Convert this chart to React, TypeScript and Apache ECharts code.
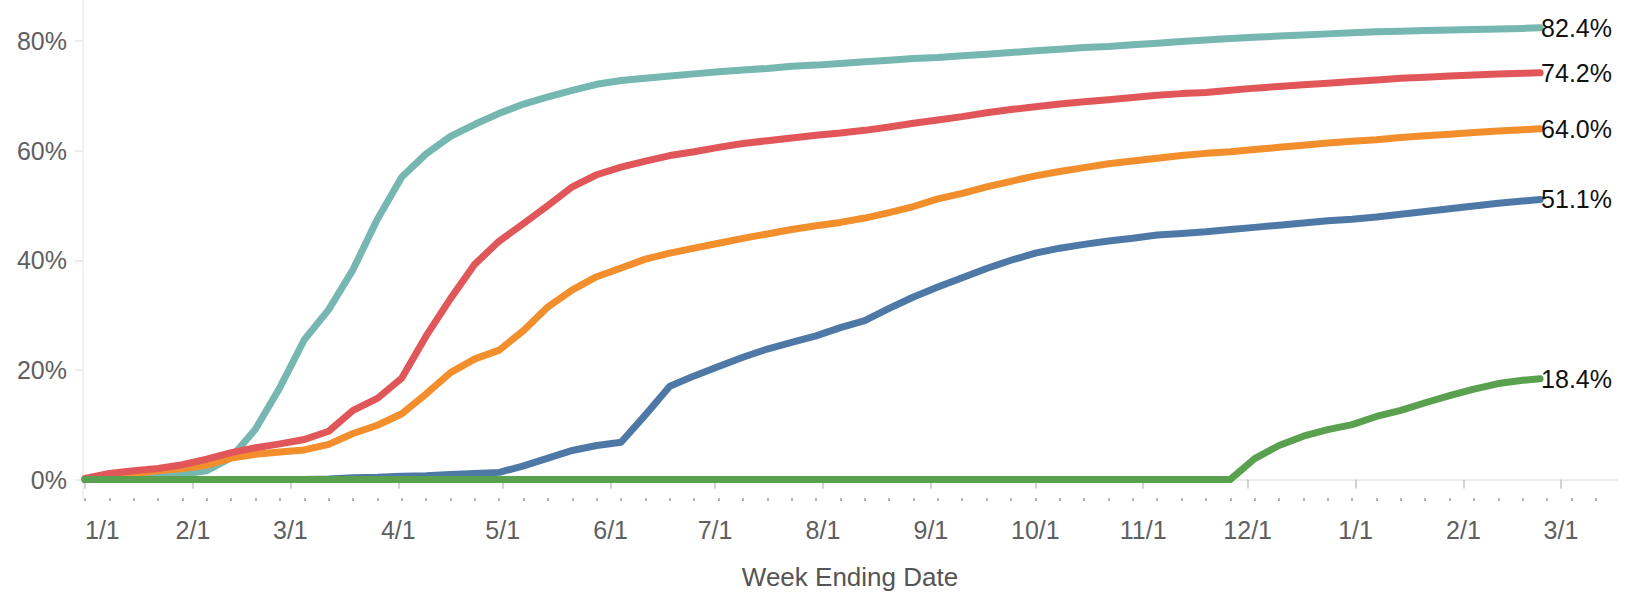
import React, { useEffect, useRef } from "react";
import * as echarts from "echarts";

// Week ending dates (x values)
const weekDates: string[] = [
  "2021-01-01", "2021-01-08", "2021-01-15", "2021-01-22", "2021-01-29",
  "2021-02-05", "2021-02-12", "2021-02-19", "2021-02-26", "2021-03-05",
  "2021-03-12", "2021-03-19", "2021-03-26", "2021-04-02", "2021-04-09",
  "2021-04-16", "2021-04-23", "2021-04-30", "2021-05-07", "2021-05-14",
  "2021-05-21", "2021-05-28", "2021-06-04", "2021-06-11", "2021-06-18",
  "2021-06-25", "2021-07-02", "2021-07-09", "2021-07-16", "2021-07-23",
  "2021-07-30", "2021-08-06", "2021-08-13", "2021-08-20", "2021-08-27",
  "2021-09-03", "2021-09-10", "2021-09-17", "2021-09-24", "2021-10-01",
  "2021-10-08", "2021-10-15", "2021-10-22", "2021-10-29", "2021-11-05",
  "2021-11-12", "2021-11-19", "2021-11-26", "2021-12-03", "2021-12-10",
  "2021-12-17", "2021-12-24", "2021-12-31", "2022-01-07", "2022-01-14",
  "2022-01-21", "2022-01-28", "2022-02-04", "2022-02-11", "2022-02-18",
  "2022-02-23",
];

// Cumulative % values per group
const age65plus: number[] = [
  0.0, 0.2, 0.4, 0.6, 1.0, 1.6, 4.0, 9.2, 16.8, 25.5,
  31.0, 38.3, 47.5, 55.2, 59.4, 62.6, 64.8, 66.8, 68.5, 69.8,
  71.0, 72.1, 72.8, 73.2, 73.6, 74.0, 74.4, 74.7, 75.0, 75.4,
  75.6, 75.9, 76.2, 76.5, 76.8, 77.0, 77.3, 77.6, 77.9, 78.2,
  78.5, 78.8, 79.0, 79.3, 79.6, 79.9, 80.2, 80.45, 80.7, 80.9,
  81.1, 81.3, 81.5, 81.7, 81.8, 81.9, 82.0, 82.1, 82.2, 82.3,
  82.4,
];
const age50to64: number[] = [
  0.2, 1.1, 1.6, 2.0, 2.7, 3.7, 4.9, 5.8, 6.5, 7.3,
  8.8, 12.6, 14.8, 18.5, 26.2, 33.0, 39.3, 43.5, 46.7, 50.0,
  53.4, 55.6, 57.0, 58.1, 59.1, 59.8, 60.6, 61.3, 61.8, 62.3,
  62.8, 63.2, 63.7, 64.3, 65.0, 65.6, 66.2, 66.9, 67.5, 68.0,
  68.5, 68.9, 69.3, 69.7, 70.1, 70.4, 70.6, 71.0, 71.4, 71.7,
  72.0, 72.3, 72.6, 72.9, 73.2, 73.4, 73.6, 73.8, 74.0, 74.1,
  74.2,
];
const age18to49: number[] = [
  0.1, 0.7, 1.1, 1.6, 2.0, 2.6, 3.9, 4.6, 5.0, 5.4,
  6.4, 8.4, 9.9, 12.0, 15.6, 19.5, 22.0, 23.6, 27.2, 31.5,
  34.6, 37.0, 38.6, 40.2, 41.3, 42.2, 43.1, 44.0, 44.8, 45.6,
  46.3, 46.9, 47.7, 48.7, 49.8, 51.2, 52.2, 53.4, 54.4, 55.4,
  56.2, 56.9, 57.6, 58.1, 58.6, 59.1, 59.5, 59.8, 60.2, 60.6,
  61.0, 61.4, 61.7, 62.0, 62.4, 62.7, 63.0, 63.3, 63.6, 63.8,
  64.0,
];
const age12to17: number[] = [
  0.0, 0.0, 0.0, 0.0, 0.0, 0.0, 0.0, 0.0, 0.0, 0.0,
  0.1, 0.3, 0.4, 0.6, 0.7, 0.9, 1.1, 1.3, 2.5, 3.9,
  5.3, 6.2, 6.8, 11.8, 17.0, 18.9, 20.6, 22.3, 23.8, 25.0,
  26.2, 27.7, 29.0, 31.2, 33.3, 35.1, 36.8, 38.5, 40.0, 41.3,
  42.2, 42.9, 43.5, 44.0, 44.6, 44.9, 45.2, 45.6, 46.0, 46.4,
  46.8, 47.2, 47.5, 47.9, 48.4, 48.9, 49.4, 49.9, 50.4, 50.8,
  51.1,
];
const age5to11: number[] = [
  0.0, 0.0, 0.0, 0.0, 0.0, 0.0, 0.0, 0.0, 0.0, 0.0,
  0.0, 0.0, 0.0, 0.0, 0.0, 0.0, 0.0, 0.0, 0.0, 0.0,
  0.0, 0.0, 0.0, 0.0, 0.0, 0.0, 0.0, 0.0, 0.0, 0.0,
  0.0, 0.0, 0.0, 0.0, 0.0, 0.0, 0.0, 0.0, 0.0, 0.0,
  0.0, 0.0, 0.0, 0.0, 0.0, 0.0, 0.0, 0.0, 3.8, 6.2,
  7.9, 9.1, 10.0, 11.5, 12.6, 14.0, 15.3, 16.5, 17.5, 18.1,
  18.4,
];

const monthTickDates: string[] = [
  "2021-01-01", "2021-02-01", "2021-03-01", "2021-04-01", "2021-05-01",
  "2021-06-01", "2021-07-01", "2021-08-01", "2021-09-01", "2021-10-01",
  "2021-11-01", "2021-12-01", "2022-01-01", "2022-02-01", "2022-03-01",
];
const yTickValues: number[] = [0, 20, 40, 60, 80];

const DAY = 86400000;
const ts = (d: string) => Date.parse(d + "T00:00:00Z");

export default function App() {
  const ref = useRef<HTMLDivElement>(null);

  useEffect(() => {
    if (!ref.current) return;
    const chart = echarts.init(ref.current, undefined, { renderer: "svg" });

    const start = ts("2021-01-01");
    const xMin = start - 0.575 * DAY;
    const xMax = start + 440.1 * DAY;

    const weeklyTicks: number[] = [];
    for (let t = start; t <= xMax; t += 7 * DAY) weeklyTicks.push(t);
    const monthTicks = monthTickDates.map(ts);

    const font = "'Liberation Sans', Arial, sans-serif";
    const mk = (name: string, vals: number[], color: string, z: number) => ({
      name,
      type: "line",
      data: weekDates.map((d, i) => [ts(d), vals[i]]),
      showSymbol: false,
      symbol: "none",
      smooth: false,
      z,
      lineStyle: { color, width: 7, cap: "round", join: "round" },
      itemStyle: { color },
      endLabel: {
        show: true,
        distance: 1,
        color: "#111",
        fontSize: 25,
        fontFamily: font,
        formatter: (p: any) => `${Number(p.value[1]).toFixed(1)}%`,
      },
      emphasis: { disabled: true },
    });

    chart.setOption({
      animation: false,
      backgroundColor: "#ffffff",
      textStyle: { fontFamily: font },
      grid: { left: 83, right: 12, top: 0, bottom: 98, containLabel: false },
      xAxis: [
        {
          type: "value",
          min: xMin,
          max: xMax,
          position: "bottom",
          axisLine: { show: true, lineStyle: { color: "#e6e6e6", width: 1.5 } },
          axisTick: {
            show: true,
            customValues: monthTicks,
            length: 9,
            lineStyle: { color: "#c4c4c4", width: 1.5 },
          },
          axisLabel: {
            show: true,
            customValues: monthTicks,
            margin: 19,
            fontSize: 25,
            color: "#606060",
            fontFamily: font,
            alignMinLabel: "left",
            formatter: (v: number) => {
              const d = new Date(v);
              return `${d.getUTCMonth() + 1}/${d.getUTCDate()}`;
            },
          },
          splitLine: { show: false },
          name: "Week Ending Date",
          nameLocation: "middle",
          nameGap: 66,
          nameTextStyle: { fontSize: 26, color: "#555555", fontFamily: font },
        },
        {
          type: "value",
          min: xMin,
          max: xMax,
          position: "bottom",
          offset: 0,
          axisLine: { show: false },
          axisTick: {
            show: true,
            customValues: weeklyTicks,
            length: 3,
            lineStyle: { color: "#9a9a9a", width: 1.5 },
          },
          axisLabel: { show: false },
          splitLine: { show: false },
        },
      ],
      yAxis: {
        type: "value",
        min: -3.375,
        max: 87.48,
        axisLine: { show: true, lineStyle: { color: "#ececec", width: 1.5 } },
        axisTick: {
          show: true,
          customValues: yTickValues,
          length: 8,
          lineStyle: { color: "#e6e6e6", width: 1.5 },
        },
        axisLabel: {
          customValues: yTickValues,
          margin: 16,
          fontSize: 25,
          color: "#606060",
          fontFamily: font,
          formatter: (v: number) => `${v}%`,
        },
        splitLine: { show: false },
      },
      series: [
        mk("65+", age65plus, "#76b7b2", 2),
        mk("12-17", age12to17, "#4e79a7", 3),
        mk("18-49", age18to49, "#f28e2b", 4),
        mk("50-64", age50to64, "#e15759", 5),
        mk("5-11", age5to11, "#59a14f", 6),
      ],
    });

    return () => chart.dispose();
  }, []);

  return (
    <div
      ref={ref}
      style={{ position: "fixed", left: 0, top: 0, width: 1629, height: 596 }}
    />
  );
}
